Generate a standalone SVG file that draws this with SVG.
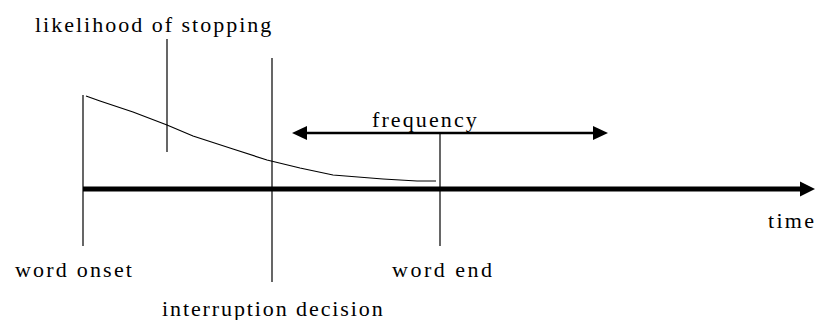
<svg xmlns="http://www.w3.org/2000/svg" width="815" height="320" viewBox="0 0 815 320">
  <style>
    .tick { stroke: #000; stroke-width: 1.2; fill: none; }
    .curve { stroke: #000; stroke-width: 1.2; fill: none; }
    .axis { stroke: #000; stroke-width: 5; fill: none; }
    .freq { stroke: #000; stroke-width: 2.5; fill: none; }
    .head { fill: #000; stroke: none; }
  </style>
  <rect width="815" height="320" fill="#fff"/>

  <g id="connectors">
    <line class="axis" x1="83" y1="189" x2="802" y2="189"/>
    <polygon class="head" points="815,189 800,181.5 800,196.5"/>
    <line class="freq" x1="303" y1="133" x2="597" y2="133"/>
    <polygon class="head" points="292,133 307,126 307,140"/>
    <polygon class="head" points="608,133 593,126 593,140"/>
    <polyline class="curve" points="86,96 100,101 133,112 167,125 193,136 233,149 267,160 300,168 333,175 383,179 417,181 436,181"/>
  </g>

  <g id="likelihood">
    <line class="tick" x1="167" y1="39" x2="167" y2="152"/>
    <text x="35" y="32" font-family="Liberation Serif" font-size="22" letter-spacing="2">likelihood of stopping</text>
  </g>

  <g id="word-onset">
    <line class="tick" x1="83" y1="95" x2="83" y2="246"/>
    <text x="15" y="277" font-family="Liberation Serif" font-size="22" letter-spacing="2.2">word onset</text>
  </g>

  <g id="interruption">
    <line class="tick" x1="272" y1="58" x2="272" y2="282"/>
    <text x="162" y="316" font-family="Liberation Serif" font-size="22" letter-spacing="1.9">interruption decision</text>
  </g>

  <g id="word-end">
    <line class="tick" x1="440" y1="133" x2="440" y2="246"/>
    <text x="392" y="277" font-family="Liberation Serif" font-size="22" letter-spacing="2.5">word end</text>
  </g>

  <g id="frequency">
    <text x="372" y="127" font-family="Liberation Serif" font-size="22" letter-spacing="2.1">frequency</text>
  </g>

  <g id="time">
    <text x="768" y="228" font-family="Liberation Serif" font-size="22" letter-spacing="2.3">time</text>
  </g>
</svg>
